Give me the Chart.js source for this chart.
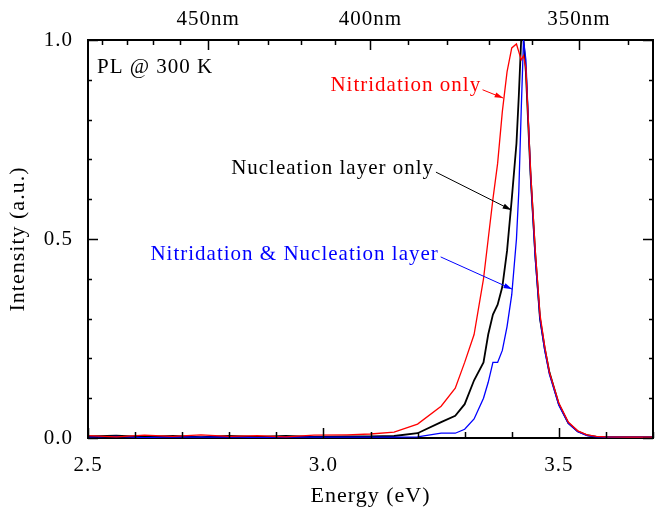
<!DOCTYPE html>
<html lang="en">
<head>
<meta charset="UTF-8">
<title>PL @ 300 K</title>
<script src="https://cdn.jsdelivr.net/npm/chart.js@4.4.0/dist/chart.umd.min.js"></script>
<style>
  html, body { margin: 0; padding: 0; background: #fff; overflow: hidden; }
  #wrap { width: 656px; height: 517px; overflow: hidden; }
</style>
</head>
<body>
<div id="wrap"><canvas id="pl" width="668" height="517"></canvas></div>
<script>
// photon energy (eV) and normalised PL intensity for the three samples
const energy = [2.5, 2.56, 2.62, 2.68, 2.74, 2.8, 2.86, 2.92, 2.98, 3.05, 3.1, 3.15, 3.2, 3.25, 3.28, 3.3, 3.32, 3.34, 3.35, 3.36, 3.37, 3.38, 3.39,
                3.4, 3.41, 3.415, 3.42, 3.425, 3.43, 3.44, 3.45, 3.46, 3.47, 3.48, 3.5, 3.52, 3.54, 3.56, 3.58, 3.6, 3.65, 3.7];
const nitridationOnly = [0.006, 0.003, 0.007, 0.004, 0.008, 0.004, 0.006, 0.003, 0.007, 0.008, 0.01, 0.015, 0.035, 0.08, 0.125, 0.19, 0.26, 0.40, 0.50, 0.60, 0.69, 0.82, 0.92,
                         0.98, 0.99, 0.97, 0.95, 0.96, 0.93, 0.67, 0.47, 0.31, 0.23, 0.165, 0.088, 0.04, 0.018, 0.008, 0.004, 0.003, 0.002, 0.002];
const nucleationOnly = [0.004, 0.006, 0.003, 0.005, 0.002, 0.005, 0.003, 0.005, 0.003, 0.004, 0.004, 0.005, 0.012, 0.04, 0.056, 0.085, 0.145, 0.19, 0.26, 0.31, 0.335, 0.38, 0.47,
                        0.6, 0.74, 0.86, 1.0, 1.0, 0.92, 0.66, 0.46, 0.3, 0.225, 0.165, 0.085, 0.038, 0.017, 0.007, 0.003, 0.002, 0.002, 0.002];
const bothLayers = [0.002, 0.004, 0.001, 0.003, 0.002, 0.003, 0.001, 0.003, 0.002, 0.002, 0.002, 0.002, 0.003, 0.012, 0.012, 0.022, 0.048, 0.1, 0.14, 0.19, 0.19, 0.22, 0.28,
                    0.36, 0.5, 0.62, 0.82, 1.0, 0.95, 0.66, 0.45, 0.3, 0.22, 0.16, 0.082, 0.037, 0.016, 0.006, 0.003, 0.002, 0.002, 0.002];

// axes
const energyTicks = [2.5, 2.6, 2.7, 2.8, 2.9, 3.0, 3.1, 3.2, 3.3, 3.4, 3.5, 3.6, 3.7];
const energyLabels = [2.5, 3.0, 3.5];
const intensityTicks = [0, 0.1, 0.2, 0.3, 0.4, 0.5, 0.6, 0.7, 0.8, 0.9, 1.0];
const intensityLabels = [0, 0.5, 1.0];
const wavelengthTicks = [340, 350, 360, 370, 380, 390, 400, 410, 420, 430, 440, 450, 460, 470, 480, 490];
const wavelengthLabels = [350, 400, 450];

const HC = 1239.84; // eV*nm
const serif = '"Liberation Serif", "Times New Roman", serif';
const near = (a, b) => Math.abs(a - b) < 1e-6;

// labels and arrows, placed in data coordinates (energy, intensity)
const notes = [
  { text: 'Nitridation only', color: '#ff0000', x: 3.335, y: 0.885, from: [3.338, 0.875], to: [3.382, 0.854] },
  { text: 'Nucleation layer only', color: '#000000', x: 3.235, y: 0.678, from: [3.239, 0.668], to: [3.399, 0.573] },
  { text: 'Nitridation & Nucleation layer', color: '#0000ff', x: 3.245, y: 0.462, from: [3.249, 0.455], to: [3.401, 0.374] }
];

const toPoints = ys => energy.map((e, i) => ({ x: e, y: ys[i] }));

function arrow(ctx, x1, y1, x2, y2, color) {
  const a = Math.atan2(y2 - y1, x2 - x1);
  ctx.strokeStyle = color;
  ctx.fillStyle = color;
  ctx.lineWidth = 1;
  ctx.beginPath();
  ctx.moveTo(x1, y1);
  ctx.lineTo(x2, y2);
  ctx.stroke();
  ctx.beginPath();
  ctx.moveTo(x2, y2);
  ctx.lineTo(x2 - 9 * Math.cos(a - 0.3), y2 - 9 * Math.sin(a - 0.3));
  ctx.lineTo(x2 - 9 * Math.cos(a + 0.3), y2 - 9 * Math.sin(a + 0.3));
  ctx.closePath();
  ctx.fill();
}

const frame = {
  id: 'frame',
  beforeDraw(chart) { chart.ctx.letterSpacing = '1px'; },
  afterDatasetsDraw(chart) {
    const { ctx, chartArea: a, scales } = chart;
    const x = scales.x, y = scales.y, top = scales.x2;
    ctx.save();
    ctx.strokeStyle = '#000';
    ctx.lineWidth = 1.5;
    ctx.beginPath();
    // inward ticks
    energyTicks.forEach(v => {
      const px = Math.round(x.getPixelForValue(v)) + 0.5;
      const len = energyLabels.some(l => near(l, v)) ? 10 : 6;
      ctx.moveTo(px, a.bottom); ctx.lineTo(px, a.bottom - len);
    });
    wavelengthTicks.forEach(w => {
      const px = Math.round(top.getPixelForValue(HC / w)) + 0.5;
      const len = wavelengthLabels.includes(w) ? 10 : 5;
      ctx.moveTo(px, a.top); ctx.lineTo(px, a.top + len);
    });
    intensityTicks.forEach(v => {
      const py = Math.round(y.getPixelForValue(v)) + 0.5;
      const len = intensityLabels.some(l => near(l, v)) ? 10 : 4;
      ctx.moveTo(a.left, py); ctx.lineTo(a.left + len, py);
      ctx.moveTo(a.right, py); ctx.lineTo(a.right - len, py);
    });
    ctx.stroke();
    // right edge of the frame
    ctx.lineWidth = 2;
    ctx.beginPath();
    ctx.moveTo(a.right, a.top); ctx.lineTo(a.right, a.bottom);
    ctx.stroke();

    ctx.letterSpacing = '1px';
    ctx.font = '21px ' + serif;
    ctx.textBaseline = 'middle';
    ctx.textAlign = 'left';
    ctx.fillStyle = '#000';
    ctx.fillText('PL @ 300 K', x.getPixelForValue(2.519), y.getPixelForValue(0.93));

    ctx.textAlign = 'right';
    notes.forEach(n => {
      ctx.fillStyle = n.color;
      ctx.fillText(n.text, x.getPixelForValue(n.x), y.getPixelForValue(n.y));
      arrow(ctx, x.getPixelForValue(n.from[0]), y.getPixelForValue(n.from[1]),
            x.getPixelForValue(n.to[0]), y.getPixelForValue(n.to[1]), n.color);
    });
    ctx.restore();
  }
};

const tickFont = { family: serif, size: 21 };

new Chart(document.getElementById('pl'), {
  type: 'line',
  data: {
    datasets: [
      { label: 'Nitridation only', data: toPoints(nitridationOnly), borderColor: '#ff0000', borderWidth: 1.3 },
      { label: 'Nitridation & Nucleation layer', data: toPoints(bothLayers), borderColor: '#0000ff', borderWidth: 1.3 },
      { label: 'Nucleation layer only', data: toPoints(nucleationOnly), borderColor: '#000000', borderWidth: 1.8 }
    ]
  },
  options: {
    responsive: false,
    animation: false,
    layout: { padding: { top: 0, right: 7, left: 0, bottom: 0 } },
    elements: { point: { radius: 0 }, line: { tension: 0 } },
    plugins: { legend: { display: false }, tooltip: { enabled: false } },
    scales: {
      x: {
        type: 'linear', position: 'bottom', min: 2.5, max: 3.7,
        afterBuildTicks: s => { s.ticks = energyTicks.map(v => ({ value: v })); },
        afterFit: s => { s.height = 79; },
        ticks: {
          autoSkip: false, maxRotation: 0, padding: 15, color: '#000', font: tickFont,
          callback: v => energyLabels.some(l => near(l, v)) ? v.toFixed(1) : ''
        },
        grid: { display: false, drawTicks: false },
        border: { display: true, color: '#000', width: 2 },
        title: { display: true, text: 'Energy (eV)', color: '#000', font: { family: serif, size: 22 }, padding: { top: 0, bottom: 8 } }
      },
      x2: {
        type: 'linear', position: 'top', min: 2.5, max: 3.7,
        afterBuildTicks: s => { s.ticks = wavelengthTicks.map(w => ({ value: HC / w })); },
        afterFit: s => { s.height = 40; },
        ticks: {
          autoSkip: false, maxRotation: 0, padding: 8, color: '#000', font: tickFont,
          callback: v => { const w = Math.round(HC / v); return wavelengthLabels.includes(w) ? w + 'nm' : ''; }
        },
        grid: { display: false, drawTicks: false },
        border: { display: true, color: '#000', width: 2 }
      },
      y: {
        type: 'linear', min: 0, max: 1,
        afterBuildTicks: s => { s.ticks = intensityTicks.map(v => ({ value: v })); },
        afterFit: s => { s.width = 88; },
        ticks: {
          autoSkip: false, padding: 15, color: '#000', font: tickFont,
          callback: v => intensityLabels.some(l => near(l, v)) ? v.toFixed(1) : ''
        },
        grid: { display: false, drawTicks: false },
        border: { display: true, color: '#000', width: 2 },
        title: { display: true, text: 'Intensity (a.u.)', color: '#000', font: { family: serif, size: 22 }, padding: { top: 5, bottom: 0 } }
      }
    }
  },
  plugins: [frame]
});
</script>
</body>
</html>
